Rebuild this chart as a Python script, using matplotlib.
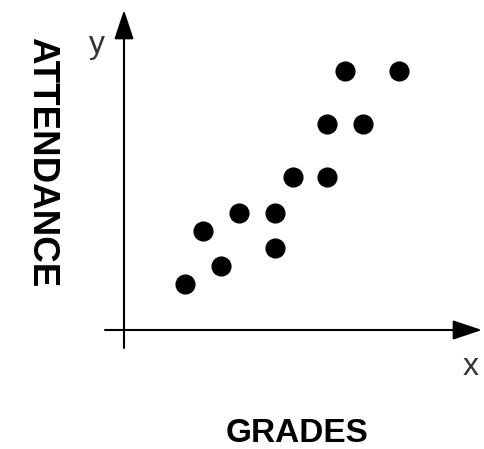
import matplotlib
matplotlib.use("Agg")
import matplotlib.pyplot as plt

# Data (grades vs attendance, arbitrary units)
grades = [3.4, 4.4, 5.4, 6.4, 8.4, 8.4, 9.4, 11.3, 11.3, 12.3, 13.3, 15.3]
attendance = [1.3, 2.8, 1.8, 3.3, 3.3, 2.3, 4.3, 4.3, 5.8, 7.3, 5.8, 7.3]
x_title = "GRADES"
y_title = "ATTENDANCE"
x_axis_letter = "x"
y_axis_letter = "y"

plt.rcParams['font.family'] = ['Liberation Sans', 'DejaVu Sans']

W, H = 485, 449
fig = plt.figure(figsize=(W / 100, H / 100), dpi=100)
ax = fig.add_axes([0, 0, 1, 1])
ox, oy = 124, 330          # pixel position of origin
sx, sy = 18.0, 35.5        # pixels per data unit
ax.set_xlim((0 - ox) / sx, (W - ox) / sx)
ax.set_ylim((oy - H) / sy, (oy - 0) / sy)
ax.axis('off')

arrow = dict(arrowstyle='-|>,head_length=1.8,head_width=0.6', lw=1.5,
             color='black', shrinkA=0, shrinkB=0)
# y axis
ax.annotate('', xy=(0, (oy - 10) / sy), xytext=(0, (oy - 348) / sy), arrowprops=arrow)
# x axis
ax.annotate('', xy=((482 - ox) / sx, 0), xytext=((105 - ox) / sx, 0), arrowprops=arrow)

ax.plot(grades, attendance, 'o', color='black', ms=13.5, linestyle='none')

fig.text(42 / W, 1 - 162 / H, y_title, rotation=-90, ha='center', va='center',
         fontsize=26.5, fontweight='bold')
fig.text(297 / W, 1 - 442 / H, x_title, ha='center', va='baseline',
         fontsize=24, fontweight='bold')
fig.text(97 / W, 1 - 53 / H, y_axis_letter, ha='center', va='baseline', fontsize=23,
         color='#333333')
fig.text(471 / W, 1 - 375 / H, x_axis_letter, ha='center', va='baseline', fontsize=23,
         color='#333333')

fig.savefig('out.png', dpi=100)
